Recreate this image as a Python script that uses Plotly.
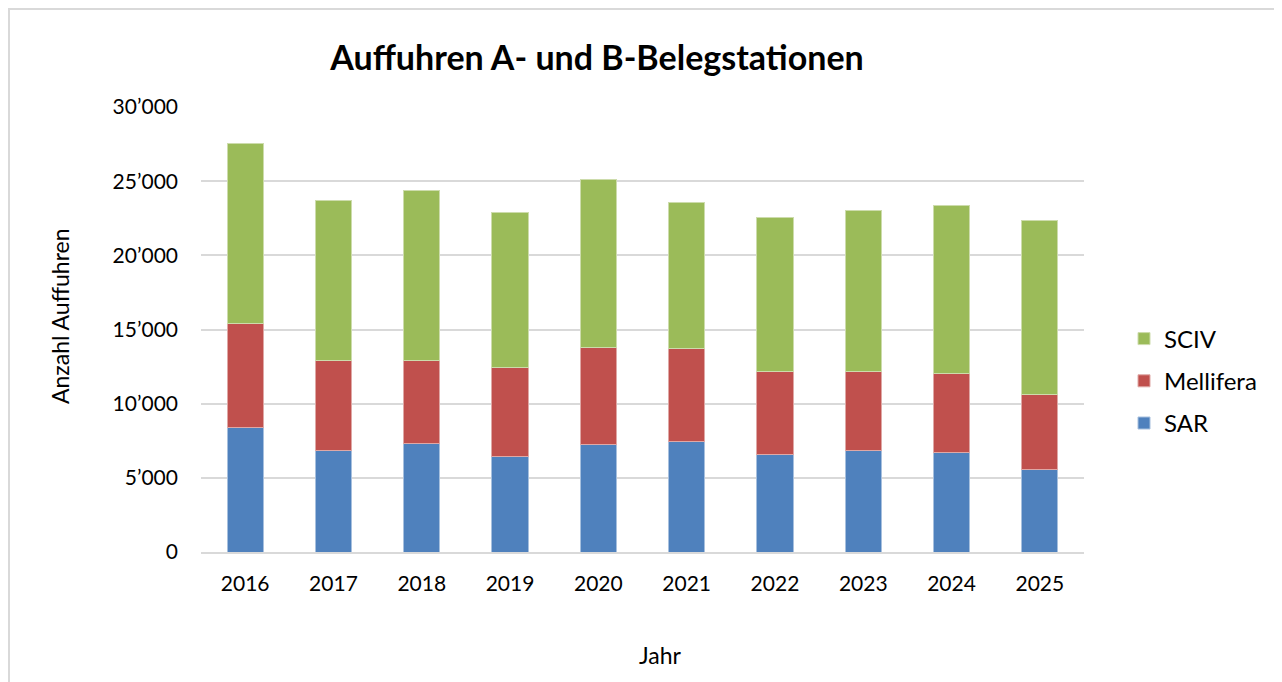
import plotly.graph_objects as go

years = ["2016", "2017", "2018", "2019", "2020", "2021", "2022", "2023", "2024", "2025"]
sar = [8410, 6810, 7330, 6450, 7280, 7480, 6600, 6860, 6680, 5580]
mellifera = [7010, 6090, 5550, 5960, 6520, 6220, 5580, 5300, 5340, 5030]
sciv = [12150, 10800, 11460, 10470, 11280, 9830, 10340, 10880, 11330, 11760]
ytick_vals = [0, 5000, 10000, 15000, 20000, 25000, 30000]
ytick_text = ["0", "5’000", "10’000", "15’000", "20’000", "25’000", "30’000"]

FONT = "Lato, 'Open Sans', sans-serif"

fig = go.Figure()
fig.add_trace(go.Bar(x=years, y=sar, name="SAR", legendgroup="a", legendrank=3,
                     marker=dict(color="#4F81BD", line=dict(color="#a7c0de", width=1))))
fig.add_trace(go.Bar(x=years, y=mellifera, name="Mellifera", legendgroup="b", legendrank=2,
                     marker=dict(color="#C0504D", line=dict(color="#dfa8a6", width=1))))
fig.add_trace(go.Bar(x=years, y=sciv, name="SCIV", legendgroup="c", legendrank=1,
                     marker=dict(color="#9BBB59", line=dict(color="#cddcac", width=1))))

# page has an 8px body margin; work in page coordinates and convert
OFF = 8
W, H = 1274, 674
L, T = 201 - OFF, 107 - OFF
R = W - (1084 - OFF)
B = H - (552 - OFF)
pw, ph = W - L - R, H - T - B

def px_x(px):
    return (px - OFF - L) / pw

def px_y(py):
    return (H - B - (py - OFF)) / ph

fig.update_layout(
    width=W, height=H,
    margin=dict(l=L, r=R, t=T, b=B, autoexpand=False),
    barmode="stack",
    bargap=0.59,
    plot_bgcolor="white",
    paper_bgcolor="white",
    font=dict(family=FONT, color="#000000", size=21),
    title=dict(text="<b>Auffuhren A- und B-Belegstationen</b>",
               x=(597 - OFF) / W, xref="container", xanchor="center",
               y=1 - (58 - OFF) / H, yref="container", yanchor="middle",
               font=dict(size=34, family=FONT, color="#000000")),
    legend=dict(x=px_x(1124), y=px_y(381), xanchor="left", yanchor="middle",
                traceorder="grouped", tracegroupgap=8,
                font=dict(size=24, family=FONT), bgcolor="rgba(0,0,0,0)"),
    xaxis=dict(showgrid=False, showline=True, linecolor="#d9d9d9", linewidth=1.5,
               ticks="", ticklabelstandoff=12, tickfont=dict(size=21)),
    yaxis=dict(range=[0, 30000], tickvals=ytick_vals, ticktext=ytick_text,
               showgrid=True, gridcolor="#d9d9d9", gridwidth=1.5,
               zeroline=False, showline=False, ticks="", ticklabelstandoff=22,
               tickfont=dict(size=21)),
    annotations=[
        dict(text="Jahr", xref="paper", yref="paper", x=px_x(660), y=px_y(655),
             xanchor="center", yanchor="middle", showarrow=False,
             font=dict(size=23, family=FONT, color="#000000")),
        dict(text="Anzahl Auffuhren", xref="paper", yref="paper", x=px_x(60), y=px_y(316),
             xanchor="center", yanchor="middle", showarrow=False, textangle=-90,
             font=dict(size=23, family=FONT, color="#000000")),
    ],
    shapes=[dict(type="rect", xref="paper", yref="paper",
                 x0=px_x(9), x1=px_x(1300), y0=px_y(9), y1=px_y(720),
                 line=dict(color="#d9d9d9", width=2), fillcolor="rgba(0,0,0,0)",
                 layer="below")],
)

fig.write_html("out.html")
